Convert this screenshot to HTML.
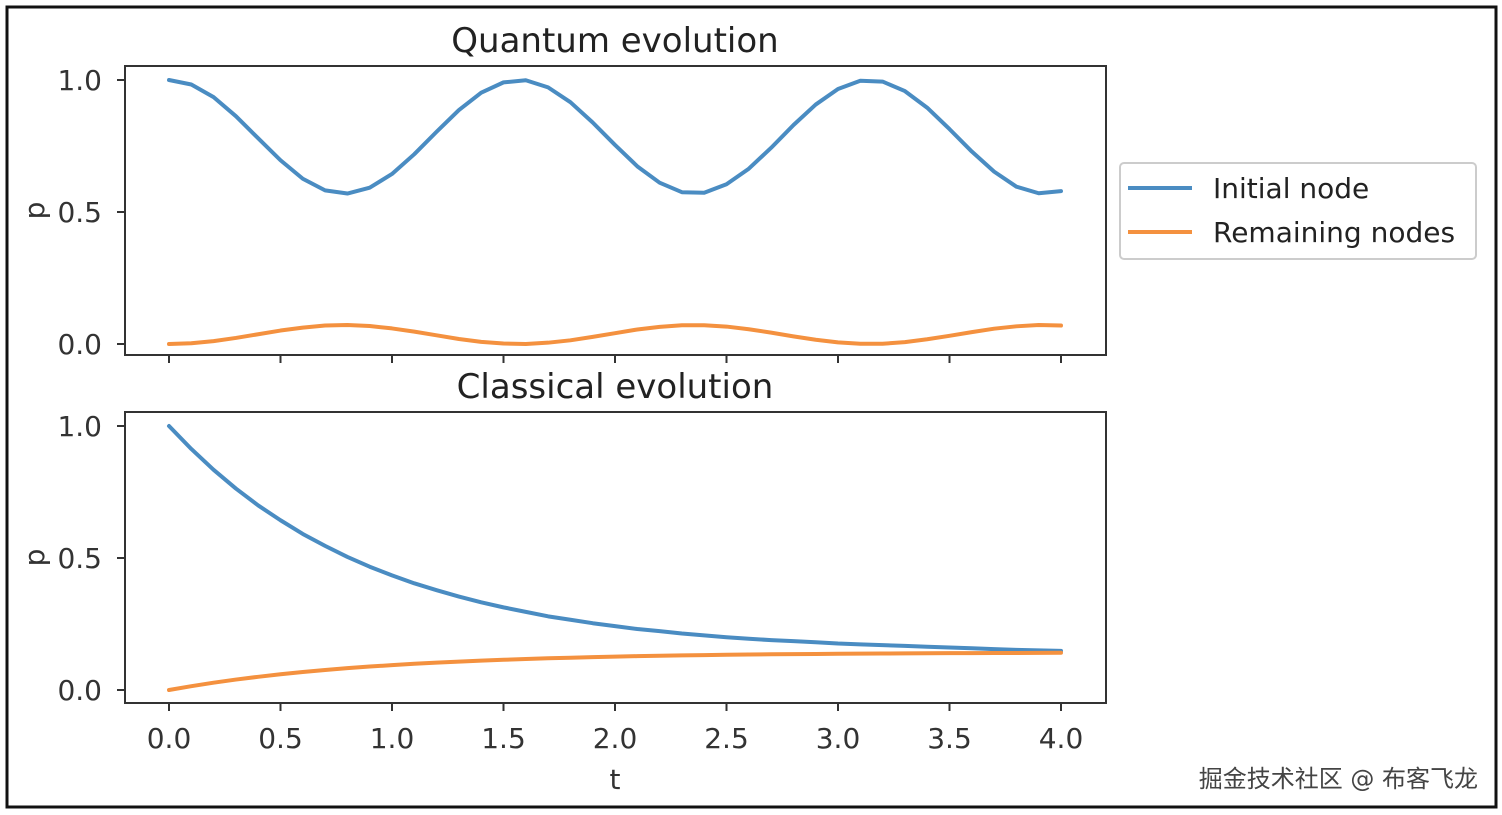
<!DOCTYPE html>
<html><head><meta charset="utf-8"><style>
html,body{margin:0;padding:0;background:#fff;}
svg{display:block;font-family:"DejaVu Sans","Liberation Sans",sans-serif;}
</style></head><body>
<svg id="c" width="1502" height="815">
<rect x="7" y="7" width="1489" height="800" fill="#fff" stroke="#111" stroke-width="3"/>
</svg>
<script>
const tVals=[0,0.1,0.2,0.3,0.4,0.5,0.6,0.7,0.8,0.9,1.0,1.1,1.2,1.3,1.4,1.5,1.6,1.7,1.8,1.9,2.0,2.1,2.2,2.3,2.4,2.5,2.6,2.7,2.8,2.9,3.0,3.1,3.2,3.3,3.4,3.5,3.6,3.7,3.8,3.9,4.0];
const quantumInitial=[1.000,.983,.935,.863,.779,.696,.626,.582,.570,.592,.644,.719,.804,.886,.952,.991,.999,.972,.916,.839,.754,.673,.611,.575,.573,.605,.664,.743,.829,.907,.966,.997,.994,.958,.895,.814,.729,.653,.596,.571,.579];
const quantumRemaining=[0,.003,.011,.023,.037,.051,.062,.070,.072,.068,.059,.047,.033,.019,.008,.002,0,.005,.014,.027,.041,.055,.065,.071,.071,.066,.056,.043,.029,.016,.006,.001,.001,.007,.018,.031,.045,.058,.067,.072,.070];
const classicalInitial=[1.000,.913,.834,.763,.699,.643,.591,.546,.504,.467,.434,.404,.378,.354,.332,.313,.296,.279,.266,.253,.242,.231,.223,.214,.207,.200,.194,.189,.185,.181,.176,.173,.170,.167,.164,.161,.158,.155,.152,.150,.148];
const classicalRemaining=[0,.0145,.0277,.0395,.050,.0595,.068,.0757,.0827,.0888,.0943,.0993,.1037,.1077,.1113,.1145,.1173,.1202,.1223,.1245,.1263,.1282,.1295,.131,.1322,.1333,.1343,.1352,.1358,.1365,.1373,.1378,.1383,.1388,.1393,.1395,.1398,.1403,.1403,.1407,.141];
const xTicks=[0,0.5,1,1.5,2,2.5,3,3.5,4];
const xTickLabels=["0.0","0.5","1.0","1.5","2.0","2.5","3.0","3.5","4.0"];
const yTicks=[0,0.5,1];
const yTickLabels=["0.0","0.5","1.0"];

const NS="http://www.w3.org/2000/svg";
const svg=document.getElementById('c');
function mk(tag,attrs,parent){const e=document.createElementNS(NS,tag);for(const k in attrs)e.setAttribute(k,attrs[k]);(parent||svg).appendChild(e);return e;}
const X=t=>169+t*(1061-169)/4;
const BLUE="#4a8cc2",ORANGE="#f4913f";

function panel(top,bottom,y1,y0,title,ser1,ser2,showXLabels,prefix){
  const Y=v=>y0+v*(y1-y0);
  const frame=mk('rect',{x:125,y:top,width:981,height:bottom-top,fill:'none',stroke:'#333','stroke-width':2});
  
  
  const tt=mk('text',{x:615,y:top-14,'font-size':34,'text-anchor':'middle',fill:'#222'});
  tt.textContent=title;
  
  
  yTicks.forEach((v,i)=>{
    const l=mk('line',{x1:117,x2:125,y1:Y(v),y2:Y(v),stroke:'#333','stroke-width':2});
    
    
    const tx=mk('text',{x:102,y:Y(v)+10,'font-size':28,'text-anchor':'end',fill:'#333'});
    tx.textContent=yTickLabels[i];
    
    
  });
  const yl=mk('text',{x:0,y:0,'font-size':28,'text-anchor':'middle',fill:'#333',transform:`translate(44,${(top+bottom)/2}) rotate(-90)`});
  yl.textContent='p';
  
  
  xTicks.forEach((v,i)=>{
    const l=mk('line',{x1:X(v),x2:X(v),y1:bottom,y2:bottom+8,stroke:'#333','stroke-width':2});
    
    
    if(showXLabels){
      const tx=mk('text',{x:X(v),y:bottom+45,'font-size':28,'text-anchor':'middle',fill:'#333'});
      tx.textContent=xTickLabels[i];
      
      
    }
  });
  [[ser1,BLUE,'initial-node'],[ser2,ORANGE,'remaining-nodes']].forEach(([s,c,n])=>{
    const p=mk('polyline',{points:s.map((v,i)=>X(tVals[i])+','+Y(v)).join(' '),fill:'none',stroke:c,'stroke-width':4,'stroke-linejoin':'round','stroke-linecap':'round'});
    
    
  });
}
panel(66,355,80,344,'Quantum evolution',quantumInitial,quantumRemaining,false,'quantum');
panel(412,703,426,690,'Classical evolution',classicalInitial,classicalRemaining,true,'classical');
const xl=mk('text',{x:615,y:789,'font-size':28,'text-anchor':'middle',fill:'#333'});
xl.textContent='t';



const lg=mk('g',{});


mk('rect',{x:1120,y:163,width:356,height:96,rx:4,fill:'#fff',stroke:'#ccc','stroke-width':2},lg);
[['Initial node',BLUE,188],['Remaining nodes',ORANGE,232]].forEach(([t,c,y])=>{
  const l=mk('line',{x1:1128,x2:1192,y1:y,y2:y,stroke:c,'stroke-width':4},lg);
  
  
  const tx=mk('text',{x:1213,y:y+10,'font-size':28,fill:'#222'},lg);
  tx.textContent=t;
  
  
});
const wm=mk('text',{x:1478,y:787,'font-size':24,'text-anchor':'end',fill:'#444',style:'font-family:"DejaVu Sans","Noto Sans CJK SC",sans-serif'});
wm.textContent='掘金技术社区 @ 布客飞龙';


</script>
</body></html>
